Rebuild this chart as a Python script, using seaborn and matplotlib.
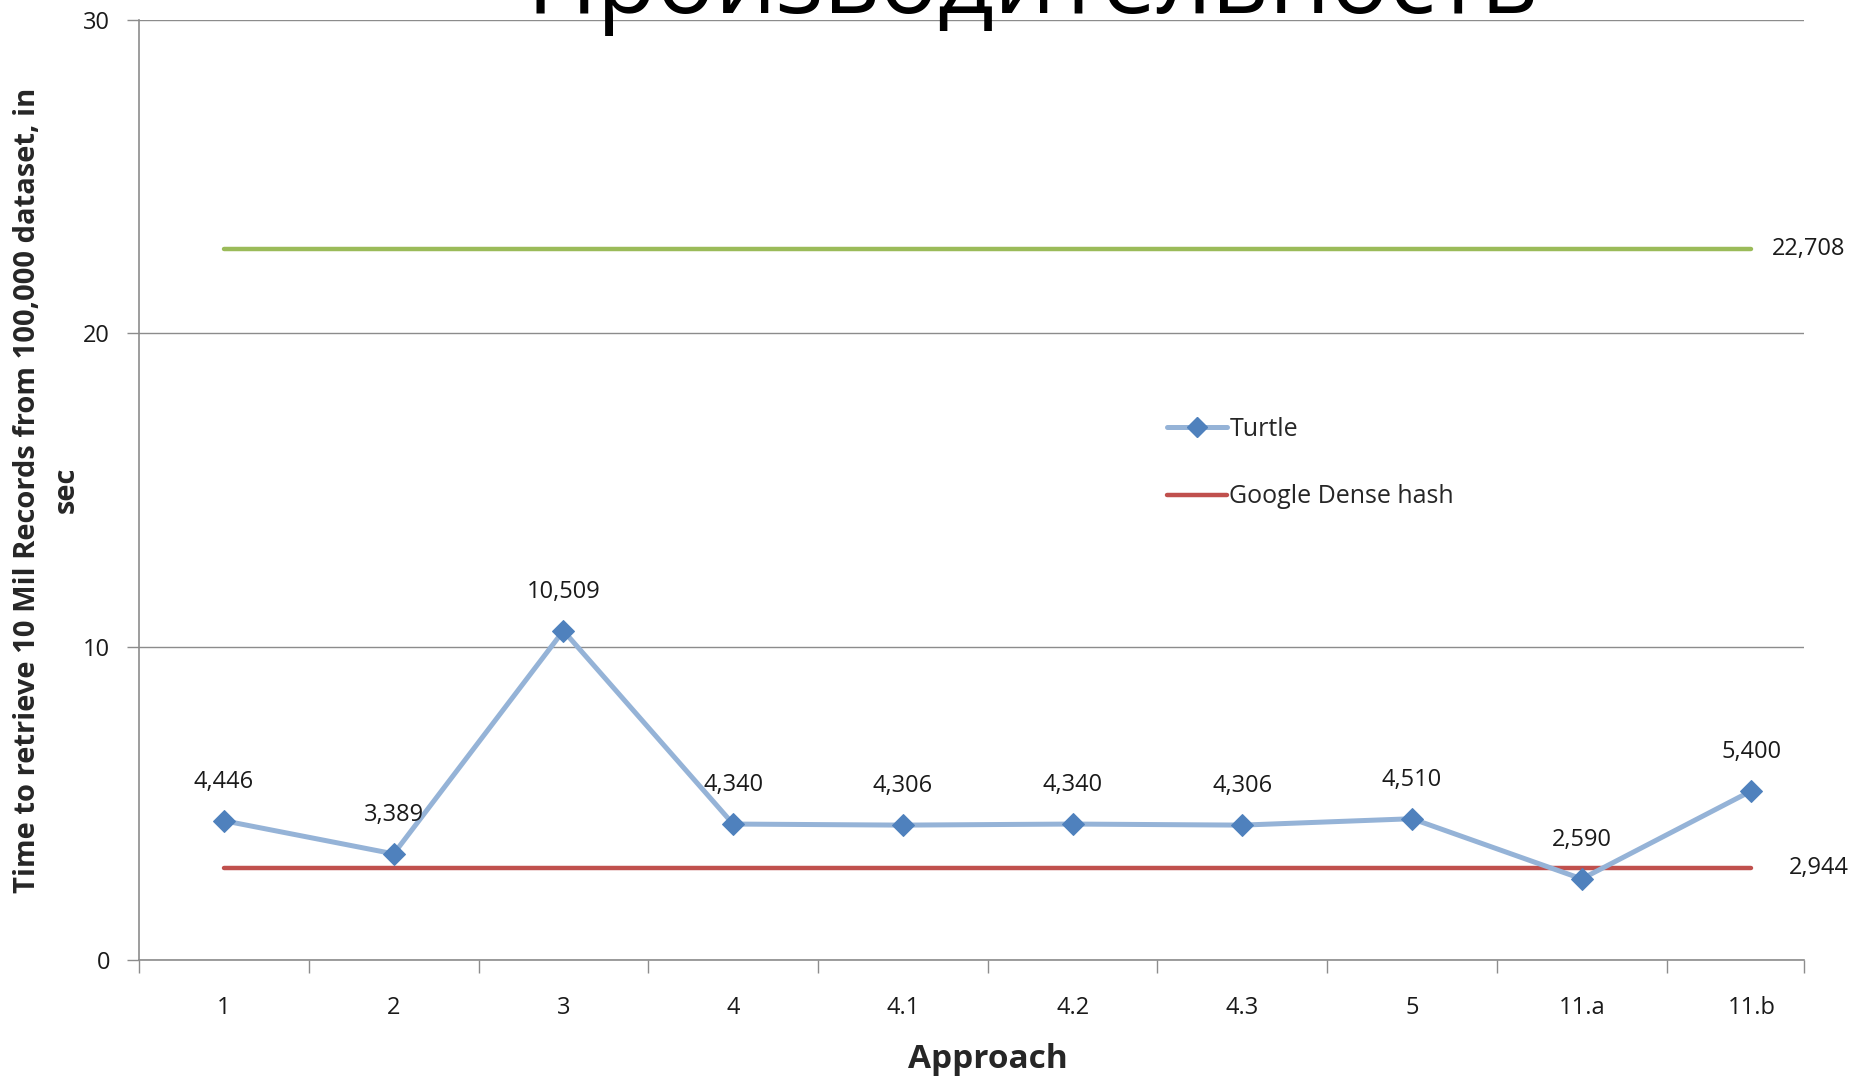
import matplotlib
matplotlib.use("Agg")
import matplotlib.pyplot as plt
import seaborn as sns
import pandas as pd
from matplotlib.lines import Line2D

# --- data -------------------------------------------------------------
approaches = ["1", "2", "3", "4", "4.1", "4.2", "4.3", "5", "11.a", "11.b"]
turtle_sec = [4.446, 3.389, 10.509, 4.340, 4.306, 4.340, 4.306, 4.510, 2.590, 5.400]
google_dense_sec = 2.944
google_sparse_sec = 22.708
y_ticks = [0, 10, 20, 30]

title = "Производительность"
y_label = "Time to retrieve 10 Mil Records from 100,000 dataset, in\nsec"
x_label = "Approach"

# --- styling ----------------------------------------------------------
sns.set_theme(style="white")
plt.rcParams["font.family"] = ["Open Sans", "DejaVu Sans"]

BLUE_LINE = "#95B3D7"
BLUE_MARK = "#4F81BD"
RED = "#C0504D"
GREEN = "#9BBB59"
GRID = "#8C8C8C"
TXT = "#1a1a1a"

def fmt(v):
    return f"{v:.3f}".replace(".", ",")

pos = list(range(len(approaches)))
df = pd.DataFrame({"pos": pos, "Turtle": turtle_sec,
                   "Google Dense hash": [google_dense_sec] * len(pos),
                   "Google Sparse hash": [google_sparse_sec] * len(pos)})

fig = plt.figure(figsize=(18.67, 10.77), dpi=100)
ax = fig.add_axes([0.0745, 0.1086, 0.8918, 0.8728])

sns.lineplot(data=df, x="pos", y="Google Sparse hash", ax=ax, color=GREEN,
             linewidth=3.2, solid_capstyle="round")
sns.lineplot(data=df, x="pos", y="Google Dense hash", ax=ax, color=RED,
             linewidth=3.2, solid_capstyle="round")
sns.lineplot(data=df, x="pos", y="Turtle", ax=ax, color=BLUE_LINE,
             linewidth=3.6, marker="D", markersize=11,
             markerfacecolor=BLUE_MARK, markeredgecolor=BLUE_MARK)

# plot area ends a little past the last category
x_right = pos[-1] + 0.31
ax.set_xlim(-0.5, x_right)
ax.set_ylim(0, 30)

# axes, ticks, grid
ax.set_yticks(y_ticks)
ax.set_yticklabels([str(t) for t in y_ticks], fontsize=17, color=TXT)
ax.set_xticks(pos)
ax.set_xticklabels(approaches, fontsize=17, color=TXT)
ax.set_xticks([p - 0.5 for p in pos] + [x_right], minor=True)
ax.tick_params(axis="x", which="major", length=0, pad=26)
ax.tick_params(axis="x", which="minor", length=9, width=1, color=GRID,
               direction="out", bottom=True)
ax.tick_params(axis="y", which="major", length=9, width=1, color=GRID,
               direction="out", left=True, pad=12)
ax.yaxis.grid(True, color=GRID, linewidth=1)
ax.set_axisbelow(True)
for s in ["top", "right"]:
    ax.spines[s].set_visible(False)
for s in ["left", "bottom"]:
    ax.spines[s].set_color(GRID)
    ax.spines[s].set_linewidth(1.2)

ax.set_xlabel(x_label, fontsize=24, fontweight="bold")
ax.xaxis.set_label_coords(0.51, -0.0886)
ax.set_ylabel(y_label, fontsize=21, fontweight="bold", linespacing=1.45)
ax.yaxis.set_label_coords(-0.035, 0.5)

# value labels
for p, v in zip(pos, turtle_sec):
    ax.annotate(fmt(v), (p, v), xytext=(0, 28), textcoords="offset points",
                ha="center", va="center", fontsize=17, color=TXT)
ax.annotate(fmt(google_sparse_sec), (pos[-1], google_sparse_sec),
            xytext=(15, 0), textcoords="offset points", ha="left",
            va="center", fontsize=17, color=TXT)
ax.annotate(fmt(google_dense_sec), (pos[-1], google_dense_sec),
            xytext=(27, 0), textcoords="offset points", ha="left",
            va="center", fontsize=17, color=TXT)

# legend
handles = [
    Line2D([], [], color=BLUE_LINE, linewidth=3.6, marker="D", markersize=10,
           markerfacecolor=BLUE_MARK, markeredgecolor=BLUE_MARK),
    Line2D([], [], color=RED, linewidth=3.2),
]
fig.legend(handles, ["Turtle", "Google Dense hash"], loc="center left",
           bbox_to_anchor=(0.625, 0.570), frameon=False, fontsize=18,
           handlelength=2.4, handletextpad=0.1, labelspacing=1.7,
           borderpad=0, borderaxespad=0)

fig.text(0.553, 0.988, title, ha="center", va="baseline", fontsize=70,
         color="black")

fig.savefig("out.png", dpi=100, facecolor="white")
